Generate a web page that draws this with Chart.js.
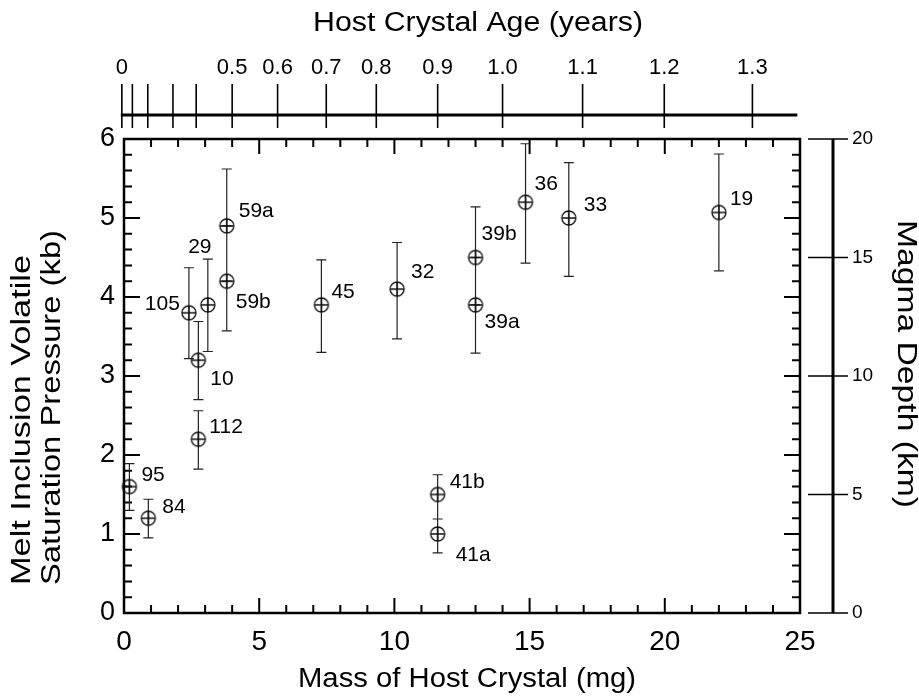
<!DOCTYPE html>
<html lang="en">
<head>
    <meta charset="UTF-8">
    <title>Melt inclusion saturation pressure vs host crystal mass</title>
    <script src="https://cdn.jsdelivr.net/npm/chart.js"></script>
    <style>
        html, body { margin: 0; padding: 0; background: #fff; }
        #chart { display: block; }
    </style>
</head>
<body>
    <canvas id="chart" width="919" height="697"></canvas>
    <script>
        // sample names and values
        const sampleNames = ["95", "84", "112", "10", "105", "29", "59b", "59a", "45", "32", "41a", "41b", "39a", "39b", "36", "33", "19"];
        const hostMass    = [0.2, 0.9, 2.75, 2.75, 2.4, 3.1, 3.8, 3.8, 7.3, 10.1, 11.6, 11.6, 13.0, 13.0, 14.85, 16.45, 22.0];
        const pressureKb  = [1.6, 1.2, 2.2, 3.2, 3.8, 3.9, 4.2, 4.9, 3.9, 4.1, 1.0, 1.5, 3.9, 4.5, 5.2, 5.0, 5.07];
        const errLow      = [1.30, 0.95, 1.82, 2.70, 3.22, 3.31, 3.57, 4.2, 3.30, 3.47, 0.76, 1.19, 3.29, 3.9, 4.43, 4.26, 4.33];
        const errHigh     = [1.89, 1.44, 2.56, 3.69, 4.37, 4.48, 4.9, 5.62, 4.47, 4.69, 1.19, 1.75, 4.5, 5.14, 5.94, 5.70, 5.81];

        // top axis: host crystal age and the mass it lines up with
        const ageYears = [0, 0.1, 0.2, 0.3, 0.4, 0.5, 0.6, 0.7, 0.8, 0.9, 1.0, 1.1, 1.2, 1.3];
        const ageMass  = [-0.08, 0.31, 0.88, 1.81, 2.67, 4.0, 5.68, 7.48, 9.33, 11.6, 14.0, 16.96, 19.98, 23.24];

        // where each point label sits relative to its marker [dx, dy, align]
        const labelPlace = [
            [12, -11, "left"], [14, -11, "left"], [11, -12, "left"], [12, 19, "left"],
            [-9, -9, "right"], [-8, -58, "center"], [9, 21, "left"], [12, -15, "left"],
            [10, -13, "left"], [14, -17, "left"], [18, 21, "left"], [12, -12, "left"],
            [9, 17, "left"], [6, -23, "left"], [9, -18, "left"], [15, -13, "left"], [11, -13, "left"]
        ];

        const FONT = '"Liberation Sans", Arial, Helvetica, sans-serif';

        // circle with a cross, like the original marker
        function makeMarker() {
            const c = document.createElement("canvas");
            c.width = 18; c.height = 18;
            const g = c.getContext("2d");
            g.strokeStyle = "#111";
            g.lineWidth = 1.3;
            g.beginPath();
            g.arc(9, 9, 7, 0, Math.PI * 2);
            g.moveTo(2, 9); g.lineTo(16, 9);
            g.moveTo(9, 2); g.lineTo(9, 16);
            g.stroke();
            return c;
        }

        function stretchText(ctx, text, x, y, width, rot, align) {
            ctx.save();
            ctx.translate(x, y);
            ctx.rotate(rot);
            const w = ctx.measureText(text).width;
            ctx.scale(width / w, 1);
            ctx.textAlign = align;
            ctx.fillText(text, 0, 0);
            ctx.restore();
        }

        const decorPlugin = {
            id: "decor",
            beforeDatasetsDraw(chart) {
                const ctx = chart.ctx;
                const xs = chart.scales.x, ys = chart.scales.y;
                const ages = chart.scales.age, depth = chart.scales.depth;
                const a = chart.chartArea;
                ctx.save();
                ctx.strokeStyle = "#000";

                // frame
                ctx.lineWidth = 2.5;
                ctx.strokeRect(a.left, a.top, a.right - a.left, a.bottom - a.top);

                // inward ticks, x every 1 mg (major 5)
                ctx.lineWidth = 2;
                ctx.beginPath();
                for (let v = 1; v < 25; v++) {
                    const px = xs.getPixelForValue(v);
                    const len = v % 5 === 0 ? 15 : 8;
                    ctx.moveTo(px, a.bottom); ctx.lineTo(px, a.bottom - len);
                    ctx.moveTo(px, a.top); ctx.lineTo(px, a.top + len);
                }
                // y every 0.2 kb (major 1)
                for (let i = 1; i < 30; i++) {
                    const py = ys.getPixelForValue(i * 0.2);
                    const len = i % 5 === 0 ? 16 : 8;
                    ctx.moveTo(a.left, py); ctx.lineTo(a.left + len, py);
                    ctx.moveTo(a.right, py); ctx.lineTo(a.right - len, py);
                }
                ctx.stroke();

                // top age axis (detached line with crossing ticks)
                const lineY = a.top - 24;
                ctx.lineWidth = 3;
                ctx.beginPath();
                ctx.moveTo(ages.getPixelForValue(ageMass[0]) - 1, lineY);
                ctx.lineTo(xs.getPixelForValue(24.9), lineY);
                ctx.stroke();
                ctx.lineWidth = 1.6;
                ctx.beginPath();
                ageMass.forEach(m => {
                    const px = ages.getPixelForValue(m);
                    ctx.moveTo(px, lineY - 31); ctx.lineTo(px, lineY + 13);
                });
                ctx.stroke();

                // right depth axis
                const lineX = a.right + 33;
                ctx.lineWidth = 3;
                ctx.beginPath();
                ctx.moveTo(lineX, depth.getPixelForValue(0));
                ctx.lineTo(lineX, depth.getPixelForValue(20));
                ctx.stroke();
                ctx.lineWidth = 1.6;
                ctx.beginPath();
                for (let d = 0; d <= 20; d += 5) {
                    const py = depth.getPixelForValue(d);
                    ctx.moveTo(lineX - 25, py); ctx.lineTo(lineX + 15, py);
                }
                ctx.stroke();

                // error bars
                ctx.strokeStyle = "#222";
                ctx.lineWidth = 1.2;
                ctx.beginPath();
                hostMass.forEach((m, i) => {
                    const px = xs.getPixelForValue(m);
                    const lo = ys.getPixelForValue(errLow[i]);
                    const hi = ys.getPixelForValue(errHigh[i]);
                    ctx.moveTo(px, lo); ctx.lineTo(px, hi);
                    ctx.moveTo(px - 5, lo); ctx.lineTo(px + 5, lo);
                    ctx.moveTo(px - 5, hi); ctx.lineTo(px + 5, hi);
                });
                ctx.stroke();
                ctx.restore();
            },
            afterDraw(chart) {
                const ctx = chart.ctx;
                const xs = chart.scales.x, ys = chart.scales.y;
                const a = chart.chartArea;
                ctx.save();
                ctx.fillStyle = "#000";

                // point labels
                ctx.font = "21px " + FONT;
                ctx.textBaseline = "middle";
                sampleNames.forEach((name, i) => {
                    const p = labelPlace[i];
                    ctx.textAlign = p[2];
                    ctx.fillText(name, xs.getPixelForValue(hostMass[i]) + p[0], ys.getPixelForValue(pressureKb[i]) + p[1]);
                });

                // axis titles
                ctx.font = "27px " + FONT;
                ctx.textBaseline = "middle";
                stretchText(ctx, "Host Crystal Age (years)", 478, 24, 330, 0, "center");
                stretchText(ctx, "Mass of Host Crystal (mg)", (a.left + a.right) / 2 + 5, 680, 338, 0, "center");
                stretchText(ctx, "Melt Inclusion Volatile", 23, a.bottom - 28, 330, -Math.PI / 2, "left");
                stretchText(ctx, "Saturation Pressure (kb)", 53, a.bottom - 28, 355, -Math.PI / 2, "left");
                stretchText(ctx, "Magma Depth (km)", 905, 364, 288, Math.PI / 2, "center");
                ctx.restore();
            }
        };

        const points = hostMass.map((m, i) => ({ x: m, y: pressureKb[i] }));

        new Chart(document.getElementById("chart"), {
            type: "scatter",
            data: {
                datasets: [{
                    data: points,
                    pointStyle: makeMarker(),
                    pointRadius: 8,
                    clip: false
                }]
            },
            options: {
                responsive: false,
                animation: false,
                layout: { padding: 0 },
                plugins: { legend: { display: false }, tooltip: { enabled: false } },
                scales: {
                    x: {
                        type: "linear", position: "bottom", min: 0, max: 25,
                        ticks: { stepSize: 5, color: "#000", padding: 12, maxRotation: 0, font: { family: FONT, size: 28 } },
                        grid: { display: false, drawTicks: false },
                        border: { display: false },
                        afterFit(s) { s.height = 84; }
                    },
                    y: {
                        type: "linear", position: "left", min: 0, max: 6,
                        ticks: { stepSize: 1, color: "#000", padding: 9, font: { family: FONT, size: 27 } },
                        grid: { display: false, drawTicks: false },
                        border: { display: false },
                        afterFit(s) { s.width = 124; }
                    },
                    age: {
                        type: "linear", position: "top", min: 0, max: 25,
                        afterBuildTicks(s) { s.ticks = ageMass.map(v => ({ value: v })); },
                        ticks: {
                            autoSkip: false, maxRotation: 0, color: "#000", padding: 58,
                            font: { family: FONT, size: 22 },
                            callback(v, i) {
                                const age = ageYears[i];
                                if (age === 0) return "0";
                                return age >= 0.5 ? age.toFixed(1) : "";
                            }
                        },
                        grid: { display: false, drawTicks: false },
                        border: { display: false },
                        afterFit(s) { s.height = 139; }
                    },
                    depth: {
                        type: "linear", position: "right", min: 0, max: 20,
                        ticks: { stepSize: 5, color: "#000", padding: 52, font: { family: FONT, size: 19 } },
                        grid: { display: false, drawTicks: false },
                        border: { display: false },
                        afterFit(s) { s.width = 119; }
                    }
                }
            },
            plugins: [decorPlugin]
        });
    </script>
</body>
</html>
